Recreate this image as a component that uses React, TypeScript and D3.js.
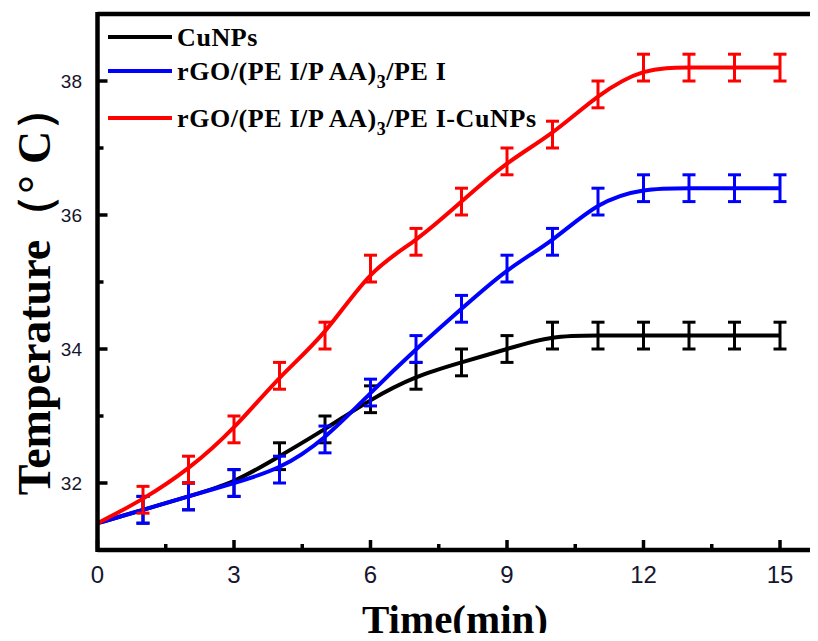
import React, { useEffect, useRef } from "react"
import * as d3 from "d3"

const times = [0, 1, 2, 3, 4, 5, 6, 7, 8, 9, 10, 11, 12, 13, 14, 15]
const cuNPs = [31.4, 31.6, 31.8, 32.0, 32.4, 32.8, 33.25, 33.6, 33.8, 34.0, 34.2, 34.2, 34.2, 34.2, 34.2, 34.2]
const rgoPei = [31.4, 31.6, 31.8, 32.0, 32.2, 32.65, 33.35, 34.0, 34.6, 35.2, 35.6, 36.2, 36.4, 36.4, 36.4, 36.4]
const rgoPeiCu = [31.4, 31.75, 32.2, 32.8, 33.6, 34.2, 35.2, 35.6, 36.2, 36.8, 37.2, 37.8, 38.2, 38.2, 38.2, 38.2]
const errors = [0, 0.2, 0.2, 0.2, 0.2, 0.2, 0.2, 0.2, 0.2, 0.2, 0.2, 0.2, 0.2, 0.2, 0.2, 0.2]
const xTicks = [0, 3, 6, 9, 12, 15]
const xMinor = [1.5, 4.5, 7.5, 10.5, 13.5]
const yTicks = [32, 34, 36, 38]
const yMinor = [33, 35, 37]

const series = [
  { name: "CuNPs", values: cuNPs, color: "#000000" },
  { name: "rGO/(PE I/P AA)3/PE I", values: rgoPei, color: "#0000ff" },
  { name: "rGO/(PE I/P AA)3/PE I-CuNPs", values: rgoPeiCu, color: "#ff0000" }
]

const W = 818
const H = 641

const Chart = () => {
  const ref = useRef<HTMLDivElement>(null)

  useEffect(() => {
    drawChart()
  }, [])

  const drawChart = () => {
    const root = d3.select(ref.current)
    root.selectAll("*").remove()

    const x = d3.scaleLinear().domain([0, 16]).range([97.5, 825.5])
    const y = d3.scaleLinear().domain([31, 39]).range([550, 14])

    const svg = root
      .append("svg")
      .attr("width", W)
      .attr("height", H)
      .style("display", "block")

    svg.append("rect").attr("width", W).attr("height", H).attr("fill", "#fff")

    // smoothed lines + error bars
    const line = d3
      .line<number>()
      .x((d, i) => x(times[i]))
      .y(d => y(d))
      .curve(d3.curveBasis)

    series.forEach(s => {
      const g = svg.append("g")
      g.append("path")
        .attr("d", line(s.values))
        .attr("fill", "none")
        .attr("stroke", s.color)
        .attr("stroke-width", 4)
      s.values.forEach((v, i) => {
        const e = errors[i]
        if (!e) return
        const cx = x(times[i])
        g.append("line")
          .attr("x1", cx).attr("x2", cx)
          .attr("y1", y(v - e)).attr("y2", y(v + e))
          .attr("stroke", s.color).attr("stroke-width", 3)
        ;[v - e, v + e].forEach(c => {
          g.append("line")
            .attr("x1", cx - 6.5).attr("x2", cx + 6.5)
            .attr("y1", y(c)).attr("y2", y(c))
            .attr("stroke", s.color).attr("stroke-width", 3)
        })
      })
    })

    // frame
    const frame = svg.append("g").attr("stroke", "#000").attr("stroke-width", 4.5)
    frame.append("line").attr("x1", x(0)).attr("x2", W).attr("y1", y(31)).attr("y2", y(31))
    frame.append("line").attr("x1", x(0)).attr("x2", W).attr("y1", y(39)).attr("y2", y(39))
    frame.append("line").attr("x1", x(0)).attr("x2", x(0)).attr("y1", y(39) - 2).attr("y2", y(31) + 2)

    // ticks (inward)
    xTicks.forEach(t => {
      svg.append("line").attr("x1", x(t)).attr("x2", x(t))
        .attr("y1", y(31)).attr("y2", y(31) - 10)
        .attr("stroke", "#000").attr("stroke-width", 3.5)
      svg.append("text").attr("x", x(t)).attr("y", 583)
        .attr("text-anchor", "middle")
        .attr("font-family", "'Liberation Sans', Arial, sans-serif")
        .attr("font-size", 24).attr("fill", "#15152e")
        .text(t)
    })
    xMinor.forEach(t => {
      svg.append("line").attr("x1", x(t)).attr("x2", x(t))
        .attr("y1", y(31)).attr("y2", y(31) - 6)
        .attr("stroke", "#000").attr("stroke-width", 3.5)
    })
    yTicks.forEach(t => {
      svg.append("line").attr("x1", x(0)).attr("x2", x(0) + 10)
        .attr("y1", y(t)).attr("y2", y(t))
        .attr("stroke", "#000").attr("stroke-width", 3.5)
      svg.append("text").attr("x", 82).attr("y", y(t) + 7)
        .attr("text-anchor", "end")
        .attr("font-family", "'Liberation Sans', Arial, sans-serif")
        .attr("font-size", 19).attr("fill", "#15152e")
        .text(t)
    })
    yMinor.forEach(t => {
      svg.append("line").attr("x1", x(0)).attr("x2", x(0) + 6)
        .attr("y1", y(t)).attr("y2", y(t))
        .attr("stroke", "#000").attr("stroke-width", 3.5)
    })

    // axis titles
    svg.append("text")
      .attr("x", 455).attr("y", 633)
      .attr("text-anchor", "middle")
      .attr("font-family", "'Liberation Serif', 'Times New Roman', serif")
      .attr("font-weight", "bold").attr("font-size", 41)
      .text("Time(min)")
    svg.append("text")
      .attr("transform", "translate(50,290) rotate(-90)")
      .attr("text-anchor", "middle")
      .attr("font-family", "'Liberation Serif', 'Times New Roman', serif")
      .attr("font-weight", "bold").attr("font-size", 46)
      .text("Temperature（° C）")

    // legend
    const rows = [37, 71, 118]
    const leg = svg.append("g")
      .attr("font-family", "'Liberation Serif', 'Times New Roman', serif")
      .attr("font-weight", "bold").attr("font-size", 26)
      .attr("letter-spacing", 0.6)
    series.forEach((s, i) => {
      leg.append("line").attr("x1", 108).attr("x2", 172)
        .attr("y1", rows[i]).attr("y2", rows[i])
        .attr("stroke", s.color).attr("stroke-width", 4)
      const t = leg.append("text").attr("x", 177).attr("y", rows[i] + 9)
      const parts = s.name.split("3")
      if (parts.length === 1) {
        t.text(s.name)
      } else {
        t.append("tspan").text(parts[0])
        t.append("tspan").attr("dy", 8).attr("font-size", 18).text("3")
        t.append("tspan").attr("dy", -8).text(parts[1])
      }
    })
  }

  return <div ref={ref} />
}

export default function App() {
  return (
    <div style={{ margin: -8 }}>
      <Chart />
    </div>
  )
}
